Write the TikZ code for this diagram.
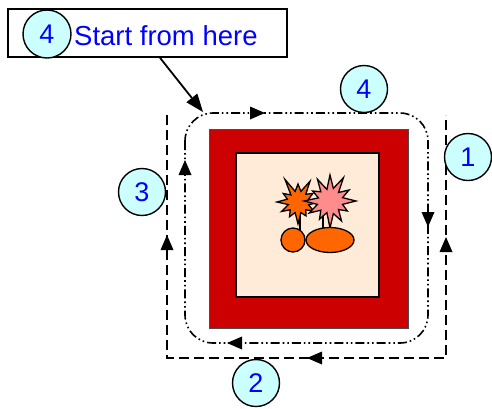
\documentclass[tikz,border=0pt]{standalone}
\usepackage{fontspec}
\setmainfont{Liberation Sans}
\usetikzlibrary{calc}
\definecolor{wallred}{HTML}{CC0000}
\definecolor{floorpeach}{HTML}{FFEBD7}
\definecolor{blastorange}{HTML}{FF6600}
\definecolor{blastpink}{HTML}{FF8C8C}
\definecolor{badgecyan}{HTML}{CCFFFF}
\definecolor{labelblue}{HTML}{0000FF}
\tikzset{
  badge/.style={circle, draw=black, line width=1.4pt, fill=badgecyan,
    minimum size=47pt, inner sep=0pt, text=labelblue,
    font=\fontsize{27}{32}\selectfont},
  looppath/.style={line width=1.6pt,
    dash pattern=on 9pt off 3pt on 1.6pt off 3pt on 1.6pt off 3pt},
  outerpath/.style={line width=1.8pt, dash pattern=on 10pt off 5pt},
  shape outline/.style={draw=black, line width=1.3pt}
}
% solid direction marks placed on the routes (tip point given)
\newcommand{\flowup}[1]{\fill (#1) -- ++(-6.5,15) -- ++(13,0) -- cycle;}
\newcommand{\flowdown}[1]{\fill (#1) -- ++(-6.5,-15) -- ++(13,0) -- cycle;}
\newcommand{\flowleft}[1]{\fill (#1) -- ++(15,-6.5) -- ++(0,13) -- cycle;}
\newcommand{\flowright}[1]{\fill (#1) -- ++(-15,-6.5) -- ++(0,13) -- cycle;}
\begin{document}
\begin{tikzpicture}[x=1pt,y=-1pt]
\useasboundingbox (0,0) rectangle (492,408);

% caption box with its badge
\node[draw=black, line width=1.6pt, fill=white, minimum width=279pt,
      minimum height=48pt, inner sep=0pt] (start) at (147.5,33) {};
\node[badge, minimum size=48pt] (b4top) at (47,34) {4};
\node[anchor=base west, inner sep=0pt, text=labelblue,
      font=\fontsize{27.5}{32}\selectfont] (starttext) at (74,45) {Start from here};

% route coordinates
\coordinate (src) at ([xshift=12.5pt]start.south);
\coordinate (entry) at (203,112);
\coordinate (oTL) at (167,115);
\coordinate (oBL) at (167,358);
\coordinate (oBR) at (446,358);
\coordinate (oTR) at (446,115);

% pointer from the caption to the start of the route
\coordinate (headbase) at ($(entry)!18pt!(src)$);
\draw[line width=1.8pt] (src) -- (headbase);
\fill (entry) -- ($(headbase)!7pt!90:(entry)$) -- ($(headbase)!7pt!-90:(entry)$) -- cycle;

% outer dashed route, open at the top
\draw[outerpath] (oTL) -- (oBL) -- (oBR) -- (oTR);
\flowup{167,235}
\flowup{446,237}
\flowleft{307,358}

% inner rounded route
\draw[looppath, rounded corners=28pt] (185,113) rectangle (428,343);
\flowright{265,113}
\flowdown{428,227}
\flowleft{227,343}
\flowup{185,160}

% walls and floor
\draw[fill=wallred, draw=black!70, line width=0.8pt] (209,129) rectangle (408,328);
\draw[fill=floorpeach, draw=black, line width=1.5pt] (236,153) rectangle (379,297);

% stems under the blasts
\draw[line width=1.3pt] (300,215) -- (300,232);
\draw[line width=1.3pt] (323,215) -- (323,232);

% orange blast
\begin{scope}[shift={(298,202)}]
\draw[shape outline, fill=blastorange]
  (0:21) -- (15:11) -- (30:18) -- (45:11) -- (60:16) -- (75:11) -- (90:22) --
  (105:11) -- (120:17) -- (135:11) -- (150:19) -- (165:10) -- (180:21) --
  (195:11) -- (210:17) -- (225:10) -- (240:26) -- (255:11) -- (270:18) --
  (285:11) -- (300:24) -- (315:11) -- (330:17) -- (345:11) -- cycle;
\end{scope}

% pink blast
\begin{scope}[shift={(330,201)}]
\draw[shape outline, fill=blastpink]
  (0:26) -- (15:13) -- (30:20) -- (45:12) -- (60:23) -- (75:13) -- (90:27) --
  (105:12) -- (120:21) -- (135:13) -- (150:24) -- (165:13) -- (180:26) --
  (195:12) -- (210:20) -- (225:13) -- (240:25) -- (255:12) -- (270:26) --
  (285:13) -- (300:27) -- (315:12) -- (330:22) -- (345:13) -- cycle;
\end{scope}

% blobs
\draw[shape outline, fill=blastorange] (293,240) circle [radius=12];
\draw[shape outline, fill=blastorange] (330,240) ellipse [x radius=24, y radius=12.5];

% step badges
\node[badge] (b4) at (364,89) {4};
\node[badge] (b1) at (468,157) {1};
\node[badge] (b3) at (142,192) {3};
\node[badge] (b2) at (256,383) {2};
\end{tikzpicture}
\end{document}
